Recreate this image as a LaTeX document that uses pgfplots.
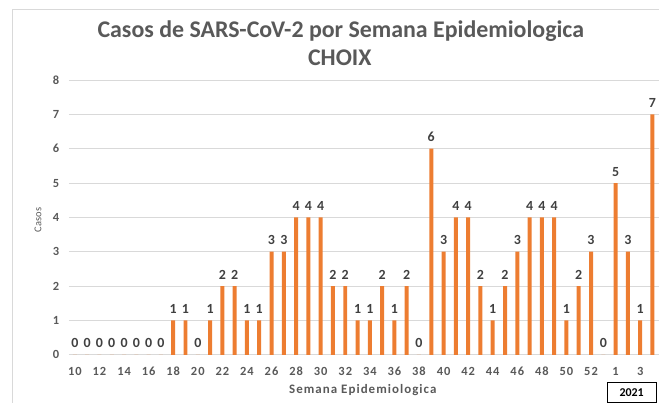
\documentclass[border=0pt]{standalone}
\usepackage{fontspec}
\setmainfont{Carlito}
\newfontfamily\wide[LetterSpace=8]{Carlito}
\usepackage{pgfplots}
\pgfplotsset{compat=1.18}
\definecolor{barorange}{HTML}{ED7D31}
\definecolor{titlegray}{HTML}{595959}
\definecolor{labelgray}{HTML}{404040}
\definecolor{gridgray}{HTML}{D9D9D9}

% semana index: 0 = semana 10 ... 43 = semana 53, 44..47 = semanas 1..4 de 2021
\pgfplotstableread{
idx casos
0 0
1 0
2 0
3 0
4 0
5 0
6 0
7 0
8 1
9 1
10 0
11 1
12 2
13 2
14 1
15 1
16 3
17 3
18 4
19 4
20 4
21 2
22 2
23 1
24 1
25 2
26 1
27 2
28 0
29 6
30 3
31 4
32 4
33 2
34 1
35 2
36 3
37 4
38 4
39 4
40 1
41 2
42 3
43 0
44 5
45 3
46 1
47 7
}\casos

\begin{document}
\begin{tikzpicture}
\path (0,0) rectangle (659bp,403bp);
\draw[gridgray, line width=0.8bp] (12.7bp,0bp) -- (12.7bp,394bp) -- (659bp,394bp);
\begin{axis}[
    at={(68.8bp,48bp)}, anchor=south west,
    scale only axis,
    width=590.2bp, height=275bp,
    ybar, bar width=4bp,
    xmin=-0.5, xmax=47.5,
    ymin=0, ymax=8,
    ytick={0,...,8},
    xtick={0,2,...,46},
    xticklabels={10,12,14,16,18,20,22,24,26,28,30,32,34,36,38,40,42,44,46,48,50,52,1,3},
    major tick length=0pt,
    axis line style={draw=none},
    ymajorgrids,
    grid style={gridgray, line width=0.8bp},
    clip=false,
    /pgf/number format/assume math mode=true,
    tick label style={font=\wide\fontsize{12.5}{13}\selectfont\bfseries, text=titlegray},
    yticklabel style={xshift=-6bp},
    xticklabel style={yshift=-9bp},
    nodes near coords,
    nodes near coords style={font=\wide\fontsize{14}{15}\selectfont\bfseries, text=labelgray, anchor=south, inner sep=0pt, yshift=6.5bp},
]
\addplot[fill=barorange, draw=none] table[x=idx, y=casos] {\casos};
\end{axis}
\node[text=titlegray, font=\fontsize{24}{26}\selectfont\bfseries] at (341bp,372bp) {Casos de SARS-CoV-2 por Semana Epidemiologica};
\node[text=titlegray, font=\fontsize{24}{26}\selectfont\bfseries] at (340bp,345bp) {CHOIX};
\node[text=titlegray, font=\fontsize{10.5}{11}\selectfont, rotate=90] at (38bp,183bp) {Casos};
\node[text=titlegray, font=\wide\fontsize{13}{14}\selectfont\bfseries] at (363bp,13bp) {Semana Epidemiologica};
\draw[black, line width=0.8bp] (608bp,0.5bp) rectangle (657bp,20bp);
\node[text=black, font=\fontsize{12}{13}\selectfont\bfseries] at (632bp,10bp) {2021};
\end{tikzpicture}
\end{document}
